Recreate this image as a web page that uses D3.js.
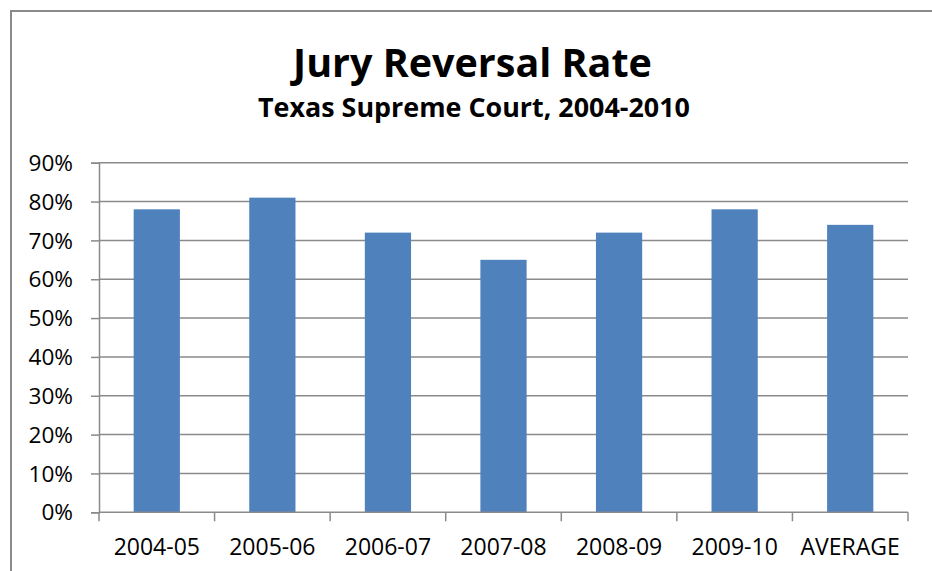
<!DOCTYPE html>
<html>
<head>
<meta charset="utf-8">
<script src="https://cdn.jsdelivr.net/npm/d3@7"></script>
<style>
  html, body { margin: 0; padding: 0; background: #fff; }
  svg { display: block; }
  text { font-family: "Open Sans", sans-serif; fill: #000; }
</style>
</head>
<body>
<svg id="chart" width="932" height="571"></svg>
<script>
const categories = ["2004-05", "2005-06", "2006-07", "2007-08", "2008-09", "2009-10", "AVERAGE"];
const reversalRate = [78, 81, 72, 65, 72, 78, 74];
const yTicks = [0, 10, 20, 30, 40, 50, 60, 70, 80, 90];
const titleText = "Jury Reversal Rate";
const subtitleText = "Texas Supreme Court, 2004-2010";

const svg = d3.select("#chart");
const W = 932, H = 571;
const plot = { left: 99, right: 908, top: 162.7, bottom: 512.3 };
const gray = "#8a8a8a";

// outer chart border
svg.append("rect")
  .attr("x", 11).attr("y", 11)
  .attr("width", W + 20).attr("height", H + 20)
  .attr("fill", "none").attr("stroke", gray).attr("stroke-width", 2);

const x = d3.scaleBand().domain(categories).range([plot.left, plot.right]).paddingInner(0.6).paddingOuter(0.3);
const y = d3.scaleLinear().domain([0, 90]).range([plot.bottom, plot.top]);

// gridlines
svg.append("g").selectAll("line").data(yTicks.filter(d => d > 0)).join("line")
  .attr("x1", plot.left).attr("x2", plot.right)
  .attr("y1", d => y(d)).attr("y2", d => y(d))
  .attr("stroke", gray).attr("stroke-width", 1.5);

// bars
svg.append("g").selectAll("rect").data(categories).join("rect")
  .attr("x", d => x(d))
  .attr("width", x.bandwidth())
  .attr("y", (d, i) => y(reversalRate[i]))
  .attr("height", (d, i) => y(0) - y(reversalRate[i]))
  .attr("fill", "#4F81BD");

// y axis
const yAxis = d3.axisLeft(y).tickValues(yTicks).tickFormat(d => d + "%").tickSize(8).tickPadding(18);
const gy = svg.append("g").attr("transform", `translate(${plot.left},0)`).call(yAxis);
gy.select(".domain").attr("stroke", gray).attr("stroke-width", 1.5);
gy.selectAll(".tick line").attr("stroke", gray).attr("stroke-width", 1.5);
gy.selectAll(".tick text").attr("font-size", 22.6).attr("font-family", "Open Sans").attr("fill", "#000").attr("dy", "0.34em");

// x axis: ticks at category boundaries
const xAxisLine = svg.append("g");
xAxisLine.append("line")
  .attr("x1", plot.left).attr("x2", plot.right)
  .attr("y1", plot.bottom).attr("y2", plot.bottom)
  .attr("stroke", gray).attr("stroke-width", 1.5);
const bounds = d3.range(categories.length + 1).map(i => plot.left + (plot.right - plot.left) * i / categories.length);
xAxisLine.selectAll("line.tk").data(bounds).join("line").attr("class", "tk")
  .attr("x1", d => d).attr("x2", d => d)
  .attr("y1", plot.bottom).attr("y2", plot.bottom + 9)
  .attr("stroke", gray).attr("stroke-width", 1.5);
svg.append("g").selectAll("text").data(categories).join("text")
  .attr("x", d => x(d) + x.bandwidth() / 2)
  .attr("y", 555)
  .attr("text-anchor", "middle")
  .attr("font-size", 23)
  .text(d => d);

// titles
function fit(sel, targetW) {
  const w = sel.node().getComputedTextLength();
  const fs = parseFloat(sel.attr("font-size"));
  sel.attr("font-size", fs * targetW / w);
}
const t1 = svg.append("text").attr("x", 472.5).attr("y", 77).attr("text-anchor", "middle")
  .attr("font-weight", "bold").attr("font-size", 40).text(titleText);
fit(t1, 359);
const t2 = svg.append("text").attr("x", 474).attr("y", 117).attr("text-anchor", "middle")
  .attr("font-weight", "bold").attr("font-size", 24).text(subtitleText);
fit(t2, 432);
</script>
</body>
</html>
